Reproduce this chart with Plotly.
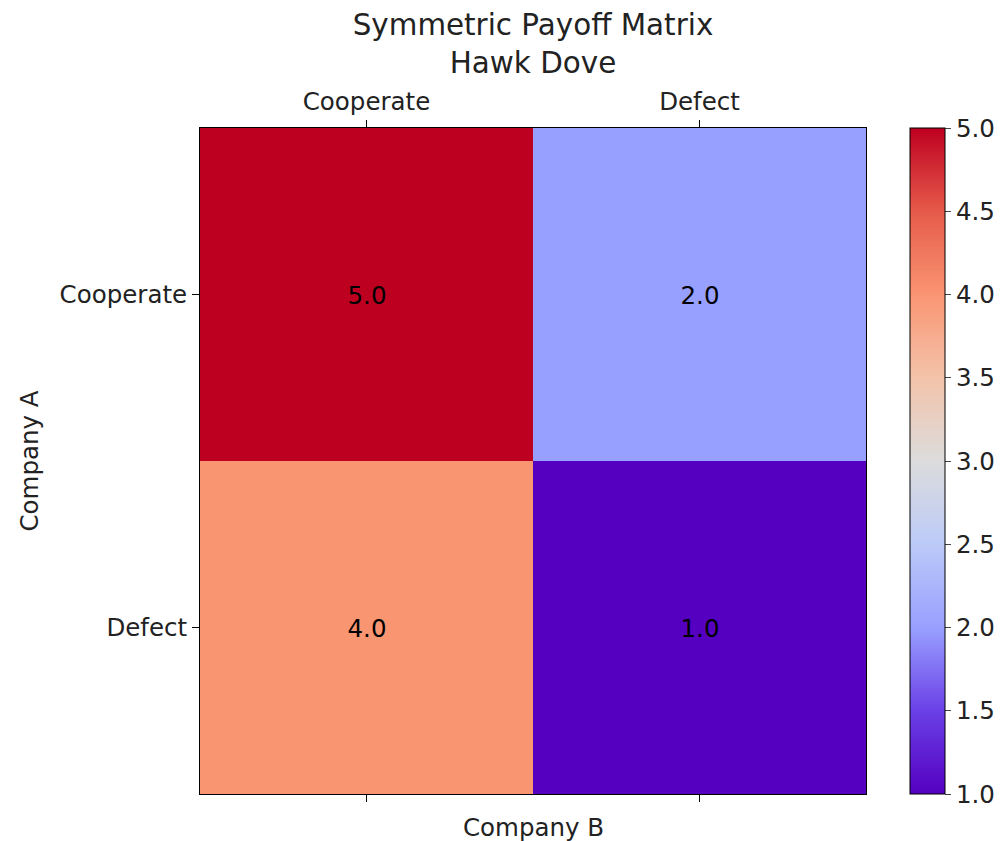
import plotly.graph_objects as go

strategies = ["Cooperate", "Defect"]
payoffs = [
    [5.0, 2.0],
    [4.0, 1.0],
]
cbar_ticks = [1.0, 1.5, 2.0, 2.5, 3.0, 3.5, 4.0, 4.5, 5.0]

# purple -> blue -> grey -> salmon -> red
colorscale = [
    [0.0, "#5500c0"],
    [0.125, "#6a40e6"],
    [0.25, "#98a0ff"],
    [0.375, "#bccaf8"],
    [0.5, "#dcdcdc"],
    [0.625, "#f3c3aa"],
    [0.75, "#fa9572"],
    [0.875, "#e65a4a"],
    [1.0, "#be0020"],
]

font = "DejaVu Sans, sans-serif"
tick_size = 24.5
ink = "#222"

fig = go.Figure(
    go.Heatmap(
        z=payoffs,
        x=strategies,
        y=strategies,
        zmin=1,
        zmax=5,
        colorscale=colorscale,
        texttemplate="%{z:.1f}",
        textfont=dict(family=font, size=tick_size, color="black"),
        colorbar=dict(
            x=1.066,
            xanchor="left",
            xpad=0,
            y=0.5,
            yanchor="middle",
            ypad=0,
            len=1.0,
            lenmode="fraction",
            thickness=35,
            outlinewidth=1,
            outlinecolor="black",
            ticks="outside",
            ticklen=6,
            tickvals=cbar_ticks,
            ticktext=[f"{v:.1f}" for v in cbar_ticks],
            tickfont=dict(family=font, size=tick_size, color=ink),
        ),
        hovertemplate="%{y} / %{x}: %{z}<extra></extra>",
    )
)

fig.update_xaxes(
    side="top",
    showline=True,
    linecolor="black",
    linewidth=1,
    mirror="allticks",
    ticks="outside",
    ticklen=7,
    tickcolor="black",
    tickfont=dict(family=font, size=tick_size, color=ink),
    showgrid=False,
    zeroline=False,
)
fig.update_yaxes(
    autorange="reversed",
    showline=True,
    linecolor="black",
    linewidth=1,
    mirror=True,
    ticks="outside",
    ticklen=7,
    tickcolor="black",
    tickfont=dict(family=font, size=tick_size, color=ink),
    title=dict(text="Company A", font=dict(family=font, size=tick_size, color=ink), standoff=14),
    showgrid=False,
    zeroline=False,
)

# page body adds an 8px offset, so margins are shifted by that amount
fig.update_layout(
    width=1005,
    height=841,
    margin=dict(l=192, r=147, t=120, b=55),
    plot_bgcolor="white",
    paper_bgcolor="white",
    font=dict(family=font, color=ink),
    title=dict(
        text="Symmetric Payoff Matrix<br>Hawk Dove",
        xref="paper",
        x=0.5,
        xanchor="center",
        yref="container",
        y=0.968,
        yanchor="top",
        font=dict(family=font, size=29.4, color=ink),
    ),
    annotations=[
        dict(
            text="Company B",
            xref="paper",
            yref="paper",
            x=0.5,
            y=-0.051,
            xanchor="center",
            yanchor="middle",
            showarrow=False,
            font=dict(family=font, size=tick_size, color=ink),
        )
    ],
)

fig.write_html("out.html")
